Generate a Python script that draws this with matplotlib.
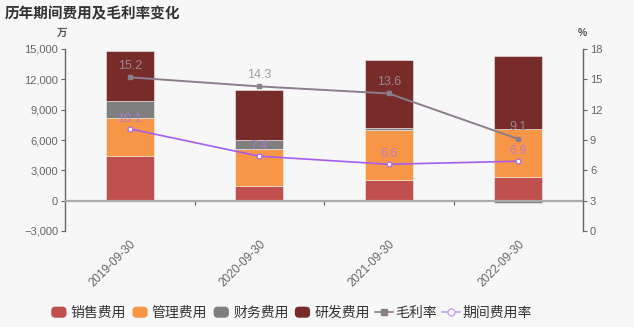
import matplotlib
matplotlib.use('Agg')
import matplotlib.pyplot as plt
import numpy as np
from matplotlib.lines import Line2D
from matplotlib.patches import Patch, FancyBboxPatch
from matplotlib.legend_handler import HandlerPatch

plt.rcParams['font.family'] = ['Liberation Sans', 'Noto Sans CJK SC', 'DejaVu Sans']

categories = ['2019-09-30', '2020-09-30', '2021-09-30', '2022-09-30']
sales = [4400, 1470, 2030, 2360]
admin = [3770, 3600, 4950, 4690]
finance = [1650, 950, 170, -200]
rnd = [5010, 4920, 6730, 7230]
gross_margin = [15.2, 14.3, 13.6, 9.1]
expense_ratio = [10.1, 7.4, 6.6, 6.9]
left_ticks = [-3000, 0, 3000, 6000, 9000, 12000, 15000]
right_ticks = [0, 3, 6, 9, 12, 15, 18]

series = [('销售费用', sales, '#c0504d'),
          ('管理费用', admin, '#f79646'),
          ('财务费用', finance, '#7f7f7f'),
          ('研发费用', rnd, '#772c2a')]

BG = '#f7f7f7'
fig = plt.figure(figsize=(6.34, 3.27), dpi=100, facecolor=BG)
ax = fig.add_axes([65/634, 1-231/327, 518/634, 182/327])
ax.set_facecolor(BG)
ax2 = ax.twinx()

x = np.arange(len(categories))
pos_base = np.zeros(len(categories))
neg_base = np.zeros(len(categories))
for name, vals, col in series:
    v = np.array(vals, dtype=float)
    bottom = np.where(v >= 0, pos_base, neg_base)
    ax.bar(x, v, bottom=bottom, width=0.37, color=col, edgecolor='#f2f2f2',
           linewidth=0.4, zorder=2, label=name)
    pos_base = pos_base + np.where(v >= 0, v, 0)
    neg_base = neg_base + np.where(v < 0, v, 0)

ax.set_xlim(-0.5, len(categories) - 0.5)
ax.set_ylim(-3000, 15000)
ax.set_yticks(left_ticks)
ax.set_yticklabels([f'{t:,}'.replace('-', '−') for t in left_ticks])
ax.axhline(0, color='#aaaaaa', lw=1.6, zorder=3)

ax.set_xticks(x)
ax.set_xticklabels(categories, rotation=45, ha='right', rotation_mode='anchor')
ax.tick_params(axis='x', length=0, pad=5, labelsize=8.5, colors='#666666')
ax.tick_params(axis='y', length=3, width=0.8, color='#666666', labelsize=8,
               labelcolor='#666666', pad=2)
for s in ['top', 'right', 'bottom']:
    ax.spines[s].set_visible(False)
ax.spines['left'].set_color('#666666')
ax.spines['left'].set_linewidth(1.0)

sec = ax.secondary_xaxis(1/6)
sec.set_xticks(x[:-1] + 0.5)
sec.set_xticklabels([])
sec.tick_params(length=3, width=0.8, color='#555555')
sec.spines['bottom'].set_visible(False)

ax2.set_ylim(0, 18)
ax2.set_yticks(right_ticks)
ax2.tick_params(axis='y', length=3, width=0.8, color='#666666', labelsize=8,
                labelcolor='#666666', pad=2)
for s in ['top', 'left', 'bottom']:
    ax2.spines[s].set_visible(False)
ax2.spines['right'].set_color('#666666')
ax2.spines['right'].set_linewidth(1.0)

gm_col = '#8c7d8c'
er_col = '#a35ef0'
ax2.plot(x, gross_margin, color=gm_col, lw=1.4, marker='s', markersize=3,
         zorder=4, label='毛利率')
ax2.plot(x, expense_ratio, color=er_col, lw=1.2, marker='o', markersize=3.5,
         markerfacecolor='white', markeredgecolor=er_col, markeredgewidth=0.8,
         zorder=4, label='期间费用率')
for xi, v in zip(x, gross_margin):
    ax2.annotate(f'{v}', (xi, v), xytext=(0, 4), textcoords='offset points',
                 ha='center', va='bottom', fontsize=9, color='#9a8f9a', alpha=0.9, zorder=5)
for xi, v in zip(x, expense_ratio):
    ax2.annotate(f'{v}', (xi, v), xytext=(0, 3), textcoords='offset points',
                 ha='center', va='bottom', fontsize=9, color='#b07ad8', alpha=0.85, zorder=5)

fig.text(62/634, 1-33/327, '万', ha='center', va='center', fontsize=7.5,
         color='#555555', fontweight='bold')
fig.text(582/634, 1-33/327, '%', ha='center', va='center', fontsize=7.5,
         color='#555555', fontweight='bold')
fig.text(5/634, 1-14/327, '历年期间费用及毛利率变化', ha='left', va='center',
         fontsize=10.5, fontweight='bold', color='#333333')


class RoundHandler(HandlerPatch):
    def create_artists(self, legend, orig_handle, xdescent, ydescent, width,
                       height, fontsize, trans):
        p = FancyBboxPatch((-xdescent + 1, -ydescent), width - 2, height,
                           boxstyle='round,pad=0,rounding_size=3',
                           facecolor=orig_handle.get_facecolor(), edgecolor='none',
                           transform=trans)
        return [p]


handles = [Patch(facecolor=c, label=n) for n, _, c in series]
handles.append(Line2D([], [], color=gm_col, lw=1.2, marker='s', markersize=4,
                      label='毛利率'))
handles.append(Line2D([], [], color='#c9a0f5', lw=1.2, marker='o', markersize=5,
                      markerfacecolor='white', markeredgecolor='#c9a0f5',
                      label='期间费用率'))
fig.legend(handles=handles, loc='center', bbox_to_anchor=(291/634, 1-313/327),
           ncol=6, frameon=False, fontsize=10, handlelength=1.3, handleheight=0.85,
           handletextpad=0.2, columnspacing=0.35, labelcolor='#333333',
           handler_map={Patch: RoundHandler()})

fig.savefig('out.png', dpi=100, facecolor=BG)
